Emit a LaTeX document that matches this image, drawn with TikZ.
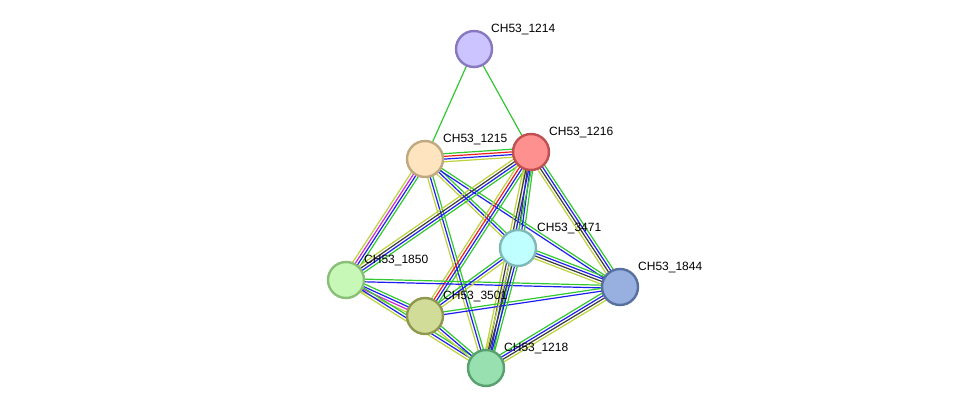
\documentclass[tikz,border=0pt]{standalone}
\usepackage{fontspec}
\setmainfont{Liberation Sans}
\usetikzlibrary{calc,backgrounds}
\definecolor{sgreen}{RGB}{50,200,50}
\definecolor{sblue}{RGB}{30,30,240}
\definecolor{sred}{RGB}{240,30,30}
\definecolor{sblack}{RGB}{60,60,60}
\definecolor{solive}{RGB}{190,210,60}
\definecolor{smag}{RGB}{210,40,210}
\tikzset{
  prot/.style={circle,minimum size=36pt,inner sep=0pt,line width=2.4pt},
  lab/.style={anchor=west,font=\fontsize{12}{14}\selectfont,inner sep=0pt},
  edge/.style={line width=1.2pt},
}
\newcommand\medge[4]{%
  \foreach \c [count=\i] in {#4}{%
    \pgfmathsetmacro\o{(\i-(#3+1)/2)*2.7}%
    \draw[edge,\c] ($(#1)!\o pt!90:(#2)$) -- ($(#2)!\o pt!-90:(#1)$);
  }}
\begin{document}
\begin{tikzpicture}[x=1pt,y=-1pt]
\useasboundingbox (0,0) rectangle (975,414);
\node[prot,draw={rgb,255:red,136;green,120;blue,192},fill={rgb,255:red,204;green,196;blue,255}] (n1214) at (474,49) {};
\node[prot,draw={rgb,255:red,192;green,168;blue,128},fill={rgb,255:red,255;green,228;blue,192}] (n1215) at (425,159) {};
\node[prot,draw={rgb,255:red,192;green,80;blue,80},fill={rgb,255:red,255;green,144;blue,144}] (n1216) at (531,152) {};
\node[prot,draw={rgb,255:red,128;green,184;blue,184},fill={rgb,255:red,192;green,255;blue,255}] (n3471) at (518,248) {};
\node[prot,draw={rgb,255:red,136;green,192;blue,120},fill={rgb,255:red,200;green,248;blue,184}] (n1850) at (346,280) {};
\node[prot,draw={rgb,255:red,88;green,112;blue,160},fill={rgb,255:red,152;green,176;blue,224}] (n1844) at (620,287) {};
\node[prot,draw={rgb,255:red,144;green,152;blue,80},fill={rgb,255:red,208;green,220;blue,152}] (n3501) at (425,316) {};
\node[prot,draw={rgb,255:red,88;green,160;blue,112},fill={rgb,255:red,152;green,224;blue,176}] (n1218) at (486,368) {};
\node[lab] (l1214) at (491,29.5) {CH53\_1214};
\node[lab] (l1215) at (443,139.5) {CH53\_1215};
\node[lab] (l1216) at (549,132.5) {CH53\_1216};
\node[lab] (l3471) at (537,228.5) {CH53\_3471};
\node[lab] (l1850) at (364,260.5) {CH53\_1850};
\node[lab] (l1844) at (638,267.5) {CH53\_1844};
\node[lab] (l3501) at (443,296.5) {CH53\_3501};
\node[lab] (l1218) at (504,348.5) {CH53\_1218};
\begin{pgfonlayer}{background}
\fill[white] (0,0) rectangle (975,414);
\medge{n1214}{n1215}{1}{sgreen}
\medge{n1214}{n1216}{1}{sgreen}
\medge{n1215}{n1216}{4}{solive,sblue,sred,sgreen}
\medge{n1215}{n1850}{4}{solive,smag,sblue,sgreen}
\medge{n1215}{n1218}{3}{solive,sblue,sgreen}
\medge{n1215}{n3471}{3}{solive,sblue,sgreen}
\medge{n1215}{n1844}{2}{sblue,sgreen}
\medge{n1216}{n1850}{4}{solive,sblack,sblue,sgreen}
\medge{n1216}{n3501}{4}{solive,sred,sblue,sgreen}
\medge{n1216}{n3471}{4}{solive,sblack,sblue,sgreen}
\medge{n1216}{n1218}{4}{solive,sblack,sblue,sgreen}
\medge{n1216}{n1844}{4}{solive,sblack,sblue,sgreen}
\medge{n1850}{n1844}{2}{sblue,sgreen}
\medge{n1850}{n3501}{4}{solive,smag,sblue,sgreen}
\medge{n1850}{n1218}{3}{solive,sblue,sgreen}
\medge{n3501}{n3471}{3}{solive,sblue,sgreen}
\medge{n3501}{n1844}{2}{sblue,sgreen}
\medge{n3501}{n1218}{3}{solive,sblue,sgreen}
\medge{n3471}{n1844}{4}{solive,sblack,sblue,sgreen}
\medge{n3471}{n1218}{4}{solive,sblack,sblue,sgreen}
\medge{n1218}{n1844}{4}{solive,sblack,sblue,sgreen}
\end{pgfonlayer}
\end{tikzpicture}
\end{document}
